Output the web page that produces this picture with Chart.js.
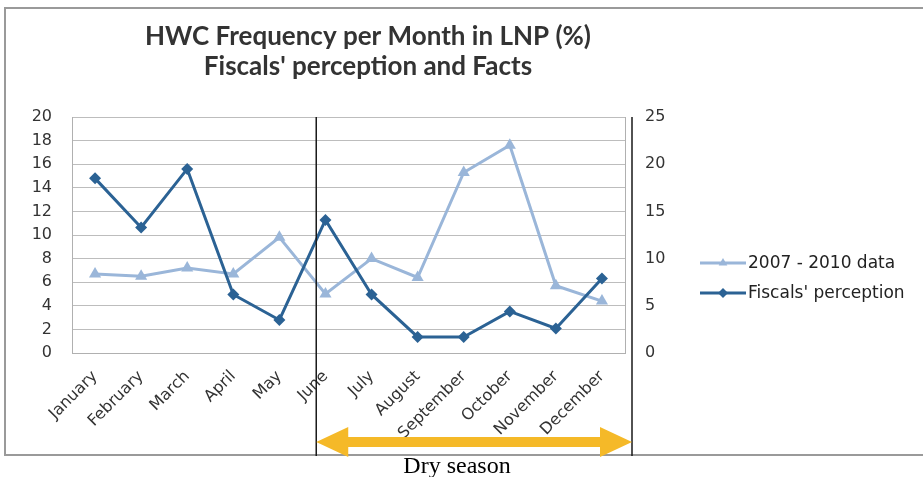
<!DOCTYPE html>
<html>
<head>
<meta charset="utf-8">
<script src="https://cdn.jsdelivr.net/npm/chart.js@4/dist/chart.umd.min.js"></script>
<style>
  html, body { margin: 0; padding: 0; background: #fff; }
  #wrap { width: 923px; height: 477px; }
</style>
</head>
<body>
<div id="wrap"><canvas id="chart" width="923" height="477"></canvas></div>
<script>
'use strict';

// Months on the x axis
const months = ['January', 'February', 'March', 'April', 'May', 'June',
    'July', 'August', 'September', 'October', 'November', 'December'];

// 2007 - 2010 data, % of HWC per month (left axis)
const factsData = [6.7, 6.5, 7.2, 6.7, 9.8, 5.0, 8.0, 6.4, 15.3, 17.6, 5.7, 4.4];

// Fiscals' perception, % (right axis)
const perceptionData = [18.5, 13.3, 19.5, 6.2, 3.5, 14.1, 6.2, 1.7, 1.7, 4.4, 2.6, 7.9];

const titleLines = ['HWC Frequency per Month in LNP (%)', "Fiscals' perception and Facts"];
const seasonLabel = 'Dry season';

const DARK = '#2B6294';
const LIGHT = '#9AB6D9';
const TICK_FONT = { family: 'DejaVu Sans', size: 16 };

/**
 * Title, frame, dry season markers, arrow and legend drawn around the chart area.
 */
const decorations = {
    id: 'decorations',
    afterDraw(chart) {
        const ctx = chart.ctx;
        const area = chart.chartArea;
        const x = chart.scales.x;

        ctx.save();

        // outer frame
        ctx.strokeStyle = '#9a9a9a';
        ctx.lineWidth = 2;
        ctx.beginPath();
        ctx.moveTo(923, 8);
        ctx.lineTo(5, 8);
        ctx.lineTo(5, 455);
        ctx.lineTo(923, 455);
        ctx.stroke();

        // title, centred a little right of the plot area
        ctx.fillStyle = '#333';
        ctx.font = 'bold 26px Lato';
        ctx.textAlign = 'center';
        ctx.textBaseline = 'middle';
        titleLines.forEach((line, i) => ctx.fillText(line, 368, 37 + i * 30));

        // dry season bounds
        const x1 = x.getPixelForValue(4.8);
        const x2 = area.right + 7;
        ctx.strokeStyle = '#1a1a1a';
        ctx.lineWidth = 1.5;
        ctx.beginPath();
        ctx.moveTo(x1, area.top);
        ctx.lineTo(x1, 456);
        ctx.moveTo(x2, area.top);
        ctx.lineTo(x2, 456);
        ctx.stroke();

        // double arrow
        const ay = 442, head = 32, half = 15, shaft = 5;
        ctx.fillStyle = '#F5B928';
        ctx.beginPath();
        ctx.moveTo(x1, ay);
        ctx.lineTo(x1 + head, ay - half);
        ctx.lineTo(x1 + head, ay - shaft);
        ctx.lineTo(x2 - head, ay - shaft);
        ctx.lineTo(x2 - head, ay - half);
        ctx.lineTo(x2, ay);
        ctx.lineTo(x2 - head, ay + half);
        ctx.lineTo(x2 - head, ay + shaft);
        ctx.lineTo(x1 + head, ay + shaft);
        ctx.lineTo(x1 + head, ay + half);
        ctx.closePath();
        ctx.fill();

        // season label
        ctx.fillStyle = '#000';
        ctx.font = '24px "Liberation Serif"';
        ctx.textAlign = 'center';
        ctx.textBaseline = 'alphabetic';
        ctx.fillText(seasonLabel, 457, 473);

        // legend
        const items = [chart.data.datasets[1], chart.data.datasets[0]];
        ctx.font = '17px "DejaVu Sans"';
        ctx.textAlign = 'left';
        ctx.textBaseline = 'middle';
        items.forEach((ds, i) => {
            const ly = 263 + i * 30;
            ctx.strokeStyle = ds.borderColor;
            ctx.lineWidth = 3;
            ctx.beginPath();
            ctx.moveTo(700, ly);
            ctx.lineTo(746, ly);
            ctx.stroke();
            ctx.fillStyle = ds.backgroundColor;
            Chart.helpers.drawPoint(ctx, { pointStyle: ds.pointStyle, radius: 5, borderWidth: 0, rotation: 0 }, 723, ly);
            ctx.fillStyle = '#222';
            ctx.fillText(ds.label, 748, ly + 1);
        });

        ctx.restore();
    }
};

const ctx = document.getElementById('chart').getContext('2d');

new Chart(ctx, {
    type: 'line',
    data: {
        labels: months,
        datasets: [
            {
                label: "Fiscals' perception",
                data: perceptionData,
                yAxisID: 'y1',
                borderColor: DARK,
                backgroundColor: DARK,
                borderWidth: 3,
                pointStyle: 'rectRot',
                pointRadius: 6,
                pointBorderWidth: 0,
                tension: 0,
                order: 0,
            },
            {
                label: '2007 - 2010 data',
                data: factsData,
                yAxisID: 'y',
                borderColor: LIGHT,
                backgroundColor: LIGHT,
                borderWidth: 3,
                pointStyle: 'triangle',
                pointRadius: 7,
                pointBorderWidth: 0,
                tension: 0,
                order: 1,
            },
        ],
    },
    options: {
        responsive: false,
        animation: false,
        layout: { padding: { top: 117, left: 0, right: 0, bottom: 0 } },
        plugins: {
            legend: { display: false },
            tooltip: { enabled: false },
            title: { display: false },
        },
        scales: {
            x: {
                offset: true,
                grid: { display: false, drawTicks: false },
                border: { display: true, color: '#b0b0b0' },
                ticks: {
                    color: '#333',
                    font: TICK_FONT,
                    minRotation: 45,
                    maxRotation: 45,
                    padding: 14,
                },
                afterFit(scale) { scale.height = 124; },
            },
            y: {
                position: 'left',
                min: 0,
                max: 20,
                grid: { color: '#bdbdbd', lineWidth: 1, drawTicks: false },
                border: { display: true, color: '#b0b0b0' },
                ticks: { stepSize: 2, color: '#333', font: TICK_FONT, padding: 20 },
                afterFit(scale) { scale.width = 72; },
            },
            y1: {
                position: 'right',
                min: 0,
                max: 25,
                grid: { display: false, drawTicks: false },
                border: { display: true, color: '#b0b0b0' },
                ticks: { stepSize: 5, color: '#333', font: TICK_FONT, padding: 20 },
                afterFit(scale) { scale.width = 298; },
            },
        },
    },
    plugins: [decorations],
});
</script>
</body>
</html>
